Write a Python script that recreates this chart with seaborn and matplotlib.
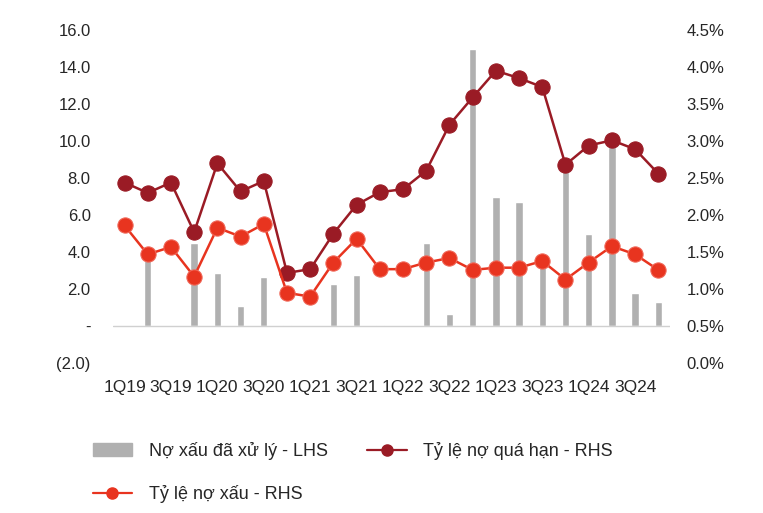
import numpy as np
import pandas as pd
import seaborn as sns
import matplotlib.pyplot as plt
from matplotlib.patches import Patch
from matplotlib.lines import Line2D

quarters = [f"{q}Q{y}" for y in range(19, 25) for q in range(1, 5)]
# Nợ xấu đã xử lý (LHS)
bad_debt_handled = [0.0, 3.7, 0.0, 4.5, 2.9, 1.1, 2.65, 0.05, 0.0, 2.3, 2.75, 0.05,
                    0.0, 4.5, 0.65, 15.0, 7.0, 6.7, 3.9, 8.7, 5.0, 10.5, 1.8, 1.3]
# Tỷ lệ nợ xấu (RHS, %)
npl_ratio = [1.86, 1.47, 1.57, 1.17, 1.83, 1.71, 1.88, 0.95, 0.90, 1.36, 1.68, 1.27,
             1.27, 1.36, 1.42, 1.26, 1.29, 1.29, 1.38, 1.13, 1.36, 1.58, 1.47, 1.26]
# Tỷ lệ nợ quá hạn (RHS, %)
overdue_ratio = [2.44, 2.30, 2.44, 1.77, 2.70, 2.32, 2.46, 1.22, 1.27, 1.75, 2.14, 2.31,
                 2.35, 2.60, 3.22, 3.59, 3.95, 3.85, 3.73, 2.68, 2.94, 3.01, 2.89, 2.56]
tick_labels = quarters[::2]

df = pd.DataFrame({"pos": np.arange(len(quarters)), "quarter": quarters,
                   "handled": bad_debt_handled, "npl": npl_ratio, "overdue": overdue_ratio})

sns.set_style("white")
plt.rcParams["font.family"] = ["Liberation Sans", "DejaVu Sans"]
plt.rcParams["font.size"] = 12

bar_color = "#b0b0b0"
red = "#e8341f"
dark_red = "#9a1b25"

fig = plt.figure(figsize=(7.63, 5.13), dpi=100)
ax = fig.add_axes([0.148, 0.292, 0.73, 0.6495])

sns.barplot(data=df, x="pos", y="handled", color=bar_color, width=0.32,
            saturation=1, ax=ax, native_scale=True)
ax.axhline(0, color="#d0d0d0", lw=1, zorder=1)
ax.set_ylim(-2, 16)
ax.set_yticks(np.arange(-2, 17, 2))
ax.set_yticklabels(["(2.0)", "-"] + [f"{v:.1f}" for v in np.arange(2, 17, 2)])
ax.set_xlabel("")
ax.set_ylabel("")

ax2 = ax.twinx()
sns.lineplot(data=df, x="pos", y="overdue", color=dark_red, lw=1.8, marker="o",
             markersize=11, markeredgecolor=dark_red, ax=ax2, zorder=3)
sns.lineplot(data=df, x="pos", y="npl", color=red, lw=1.8, marker="o",
             markersize=11, markeredgecolor="#f0695a", ax=ax2, zorder=3)
ax2.set_ylim(0, 4.5)
ax2.set_yticks(np.arange(0, 4.51, 0.5))
ax2.set_yticklabels([f"{v:.1f}%" for v in np.arange(0, 4.51, 0.5)])
ax2.set_ylabel("")
ax2.set_xlabel("")

ax.set_xticks(np.arange(0, len(quarters), 2))
ax.set_xticklabels(tick_labels, fontsize=12.5)
ax.set_xlim(-0.5, 23.5)

for a in (ax, ax2):
    for s in a.spines.values():
        s.set_visible(False)
    a.tick_params(length=0)
ax.tick_params(axis="x", pad=12)
ax.tick_params(axis="y", pad=16, labelsize=12)
ax2.tick_params(axis="y", pad=12, labelsize=12)

handles = [
    Patch(color=bar_color, label="Nợ xấu đã xử lý - LHS"),
    Line2D([], [], color=red, marker="o", markersize=8, lw=1.6, label="Tỷ lệ nợ xấu - RHS"),
    Line2D([], [], color=dark_red, marker="o", markersize=8, lw=1.6, label="Tỷ lệ nợ quá hạn - RHS"),
]
fig.legend(handles=handles, ncol=2, loc="upper left", bbox_to_anchor=(0.1, 0.17),
           frameon=False, fontsize=13, handlelength=2.2, handletextpad=0.9,
           labelspacing=1.4, columnspacing=2.2)

fig.savefig("out.png", dpi=100, facecolor="white")
